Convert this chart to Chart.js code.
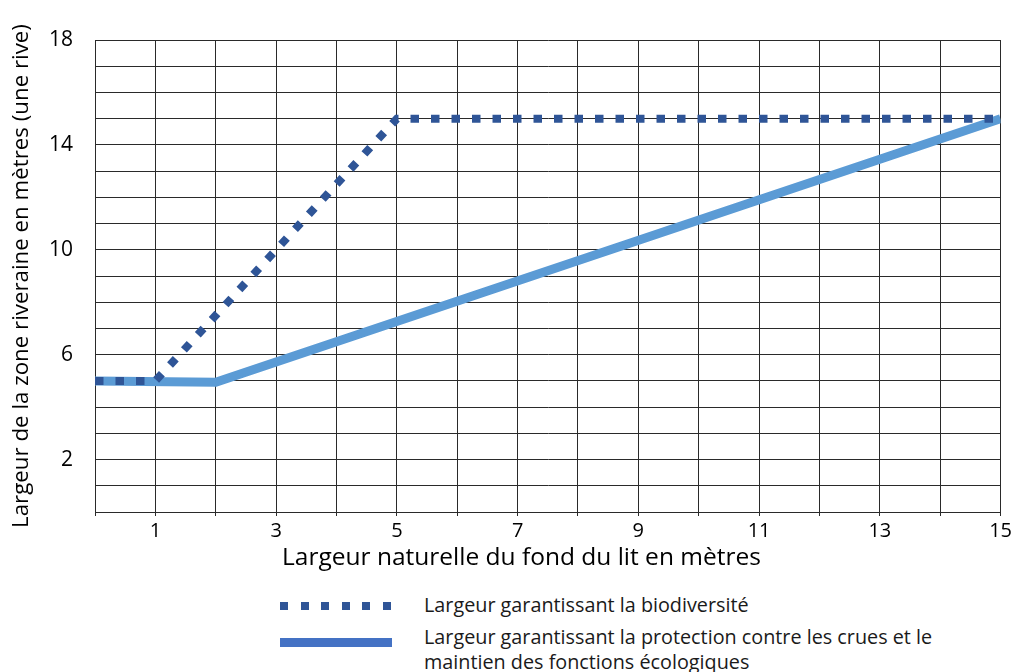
<!DOCTYPE html>
<html lang="fr">
<head>
<meta charset="utf-8">
<script src="https://cdn.jsdelivr.net/npm/chart.js@4"></script>
<style>
  html, body { margin: 0; padding: 0; background: #fff; }
  body { width: 1015px; height: 672px; position: relative; overflow: hidden; font-family: "Open Sans", sans-serif; }
  #wrap { position: absolute; left: 0; top: 0; width: 1015px; height: 548px; }
  .xtitle { position: absolute; left: 282px; top: 539px; font-size: 24.5px; line-height: 34px; color: #000; white-space: nowrap; }
  .leg { position: absolute; left: 280px; width: 112px; }
  .leg.dots { top: 602px; height: 8px; background: repeating-linear-gradient(to right, #2F5597 0 8px, transparent 8px 20.5px); }
  .leg.solid { top: 638px; height: 9px; background: #4472C4; }
  .legtxt { position: absolute; left: 424px; font-size: 19.8px; line-height: 25px; color: #1a1a1a; white-space: nowrap; }
</style>
</head>
<body>
<div id="wrap"><canvas id="chart"></canvas></div>
<div class="xtitle">Largeur naturelle du fond du lit en mètres</div>
<div class="leg dots"></div>
<div class="legtxt" style="top:592px">Largeur garantissant la biodiversité</div>
<div class="leg solid"></div>
<div class="legtxt" style="top:624px">Largeur garantissant la protection contre les crues et le<br>maintien des fonctions écologiques</div>
<script>
// Largeur garantissant la biodiversité (pointillé)
const bioX = [0, 1, 5, 15];
const bioY = [5, 5, 15, 15];
// Largeur garantissant la protection contre les crues (trait plein)
const cruesX = [0, 2, 15];
const cruesY = [5, 4.95, 15];

const xLabels = [1, 3, 5, 7, 9, 11, 13, 15];
const yLabels = [2, 6, 10, 14, 18];

const GRID = '#2a2a2a';
const toPoints = (xs, ys) => xs.map((x, i) => ({ x, y: ys[i] }));

new Chart(document.getElementById('chart').getContext('2d'), {
    type: 'line',
    data: {
        datasets: [
            {
                label: 'Largeur garantissant la biodiversité',
                data: toPoints(bioX, bioY),
                borderColor: '#2F5597',
                borderWidth: 8,
                borderDash: [8.5, 12],
                borderCapStyle: 'butt',
                pointRadius: 0,
                tension: 0,
            },
            {
                label: 'Largeur garantissant la protection contre les crues et le maintien des fonctions écologiques',
                data: toPoints(cruesX, cruesY),
                borderColor: '#5B9BD5',
                borderWidth: 9,
                borderJoinStyle: 'miter',
                pointRadius: 0,
                tension: 0,
            }
        ]
    },
    options: {
        responsive: true,
        maintainAspectRatio: false,
        animation: false,
        layout: { padding: { top: 40, right: 13, left: 0, bottom: 0 } },
        plugins: { legend: { display: false }, tooltip: { enabled: false } },
        scales: {
            x: {
                type: 'linear',
                min: 0, max: 15,
                afterFit: s => { s.height = 36; },
                grid: { color: GRID, lineWidth: 1, tickLength: 4, tickColor: GRID },
                border: { color: GRID },
                ticks: {
                    stepSize: 1,
                    autoSkip: false,
                    maxRotation: 0,
                    padding: 3,
                    color: '#000',
                    font: { family: 'Open Sans', size: 20 },
                    callback: v => xLabels.includes(v) ? String(v) : ''
                }
            },
            y: {
                type: 'linear',
                min: 0, max: 18,
                afterFit: s => { s.width = 95; },
                grid: { color: GRID, lineWidth: 1, drawTicks: false },
                border: { color: GRID },
                ticks: {
                    stepSize: 1,
                    autoSkip: false,
                    padding: 22,
                    color: '#000',
                    font: { family: 'Open Sans', size: 21 },
                    callback: v => yLabels.includes(v) ? String(v) : ''
                },
                title: {
                    display: true,
                    text: 'Largeur de la zone riveraine en mètres (une rive)',
                    color: '#000',
                    font: { family: 'Open Sans', size: 22.3 },
                    padding: { top: 8, bottom: 0 }
                }
            }
        }
    }
});
</script>
</body>
</html>
